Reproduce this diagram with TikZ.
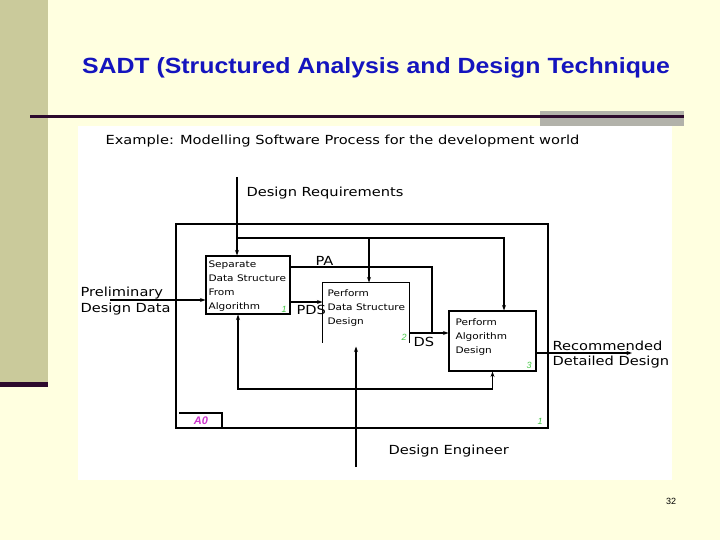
\documentclass[tikz,border=0pt]{standalone}
\usepackage{fontspec}
\setmainfont{Liberation Sans}
\newfontfamily\titlefont[FakeStretch=1.13]{Liberation Sans}
\newfontfamily\diafont[FakeStretch=1.17]{DejaVu Sans}
\usetikzlibrary{arrows.meta,calc,positioning}
\definecolor{slidebg}{RGB}{255,255,224}
\definecolor{slideband}{RGB}{202,202,155}
\definecolor{slidedark}{RGB}{45,10,45}
\definecolor{slidegrey}{RGB}{178,178,170}
\definecolor{titleblue}{RGB}{20,20,190}
\definecolor{nummagenta}{RGB}{204,51,204}
\definecolor{numgreen}{RGB}{70,200,70}

\begin{document}
\begin{tikzpicture}[x=1pt,y=-1pt,>={Stealth[length=5.5pt,width=4pt]},line width=1.1pt,
    every node/.style={inner sep=0pt,align=left},
    lbl/.style={font=\diafont\fontsize{12.5}{15.5}\selectfont},
    blk/.style={draw},
    blktext/.style={anchor=north west,font=\diafont\fontsize{9}{14}\selectfont},
    boxnum/.style={font=\itshape\fontsize{9}{9}\selectfont,text=numgreen}]
    % slide background
    \useasboundingbox[fill=slidebg] (0,0) rectangle (720,540);
    \fill[slideband] (0,0) rectangle (48,383);
    \fill[slidedark] (0,382) rectangle (48,387);
    \fill[slidegrey] (540,111) rectangle (684,126);
    \fill[slidedark] (30,115.5) rectangle (684,118.5);
    \fill[white] (78,126) rectangle (672,480);
    \node[text=titleblue,font=\titlefont\bfseries\fontsize{22}{26}\selectfont] (title) at (376,68) {SADT (Structured Analysis and Design Technique};
    \node[lbl,anchor=west] (example) at (105,141) {Example: Modelling Software Process for the development world};
    % A0 frame and activity boxes
    \node[blk,minimum width=372,minimum height=204] (frame) at (362,326) {};
    \draw (179,413) -| (222,428);
    \node[font=\bfseries\itshape\fontsize{11}{11}\selectfont,text=nummagenta] (anum) at (201,421) {A0};
    \node[boxnum] (fnum) at (540,421) {1};
    \node[blk,minimum width=84,minimum height=58] (sep) at (248,285) {};
    \node[blktext] at (208,260) {Separate\\Data Structure\\From\\Algorithm};
    \node[boxnum] at (284,309) {1};
    \node[minimum width=86,minimum height=59] (pdd) at (366,312.5) {};
    \draw (pdd.south west) -- (pdd.north west) -- (pdd.north east) -- (pdd.south east);
    \node[blktext] at (327,289) {Perform\\Data Structure\\Design};
    \node[boxnum] at (404,337) {2};
    \node[blk,minimum width=87,minimum height=60] (pad) at (492.5,341) {};
    \node[blktext] at (455,318) {Perform\\Algorithm\\Design};
    \node[boxnum] at (529,365) {3};
    % junction points
    \coordinate (drq) at (237,177);
    \coordinate (brc) at (237,238);
    \coordinate (pin) at (110,300);
    \coordinate (paj) at (432,267);
    \coordinate (dsj) at (432,333);
    \coordinate (rdd) at (632,353);
    \coordinate (den) at (356,467);
    \coordinate (mj) at (356,389);
    % controls
    \draw[->] (drq) -- (drq |- sep.north);
    \draw[->] (brc) -| ($(pdd.north)+(3,0)$);
    \draw[->] (brc) -| ($(pad.north)+(11.5,0)$);
    \node[lbl,anchor=west] at (246,193) {Design Requirements};
    % inputs and outputs
    \draw[->] (pin) -- (sep.west |- pin);
    \node[lbl,anchor=west,font=\diafont\fontsize{12.5}{16}\selectfont] at (80,301) {Preliminary\\Design Data};
    \draw (sep.east |- paj) -- (paj) -- (dsj);
    \node[lbl,anchor=west] at (315,261) {PA};
    \draw[->] ($(sep.east)+(0,17)$) -- ($(pdd.west)+(0,-10.5)$);
    \node[lbl,anchor=west] at (296,310) {PDS};
    \draw[->] (pdd.east |- dsj) -- (pad.west |- dsj);
    \node[lbl,anchor=west] at (413,342) {DS};
    \draw[->] (pad.east |- rdd) -- (rdd);
    \node[lbl,anchor=west,font=\diafont\fontsize{12.5}{15}\selectfont] at (552,355) {Recommended\\Detailed Design};
    % mechanism
    \draw[->] (den) -- ($(pdd.south)+(-10,4)$);
    \draw[->] (mj) -| ($(sep.south)+(-10,0)$);
    \draw[->] (mj) -| (pad.south);
    \node[lbl,anchor=west] at (388,451) {Design Engineer};
    \node[font=\fontsize{9}{9}\selectfont] (page) at (671,501) {32};
\end{tikzpicture}
\end{document}
